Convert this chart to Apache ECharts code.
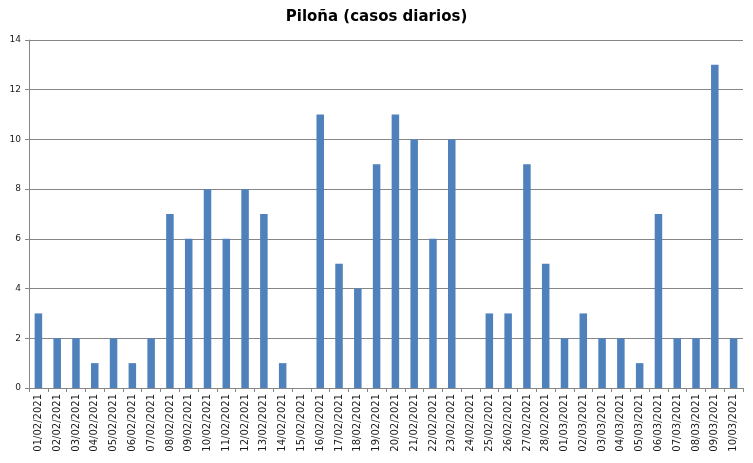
<!DOCTYPE html>
<html><head><meta charset="utf-8">
<script src="https://cdn.jsdelivr.net/npm/echarts@6/dist/echarts.min.js"></script>
<style>html,body{margin:0;padding:0;background:#fff}#c{width:753px;height:463px}</style>
</head><body><div id="c"></div>
<script>
const categories = ["01/02/2021","02/02/2021","03/02/2021","04/02/2021","05/02/2021","06/02/2021","07/02/2021","08/02/2021","09/02/2021","10/02/2021","11/02/2021","12/02/2021","13/02/2021","14/02/2021","15/02/2021","16/02/2021","17/02/2021","18/02/2021","19/02/2021","20/02/2021","21/02/2021","22/02/2021","23/02/2021","24/02/2021","25/02/2021","26/02/2021","27/02/2021","28/02/2021","01/03/2021","02/03/2021","03/03/2021","04/03/2021","05/03/2021","06/03/2021","07/03/2021","08/03/2021","09/03/2021","10/03/2021"];
const casos = [3,2,2,1,2,1,2,7,6,8,6,8,7,1,0,11,5,4,9,11,10,6,10,0,3,3,9,5,2,3,2,2,1,7,2,2,13,2];
const chart = echarts.init(document.getElementById('c'));
chart.setOption({
  animation:false,
  title:{text:'Piloña (casos diarios)',left:'center',top:5,textStyle:{fontFamily:'DejaVu Sans',fontSize:15,fontWeight:'bold',color:'#000'}},
  grid:{left:29,right:10,top:40,bottom:75,containLabel:false},
  xAxis:{type:'category',data:categories,boundaryGap:true,
    axisLine:{lineStyle:{color:'#868686'}},
    axisTick:{show:true,length:4,lineStyle:{color:'#868686'}},
    axisLabel:{rotate:90,interval:0,fontFamily:'DejaVu Sans',fontSize:10,color:'#1a1a1a',margin:6}},
  yAxis:{type:'value',min:0,max:14,interval:2,
    axisLine:{show:true,lineStyle:{color:'#868686'}},
    axisTick:{show:true,length:4,lineStyle:{color:'#868686'}},
    splitLine:{lineStyle:{color:'#868686'}},
    axisLabel:{fontFamily:'DejaVu Sans',fontSize:9,color:'#1a1a1a',margin:8}},
  series:[{type:'bar',data:casos,barWidth:'40%',itemStyle:{color:'#4f81bd'}}]
});
</script></body></html>
